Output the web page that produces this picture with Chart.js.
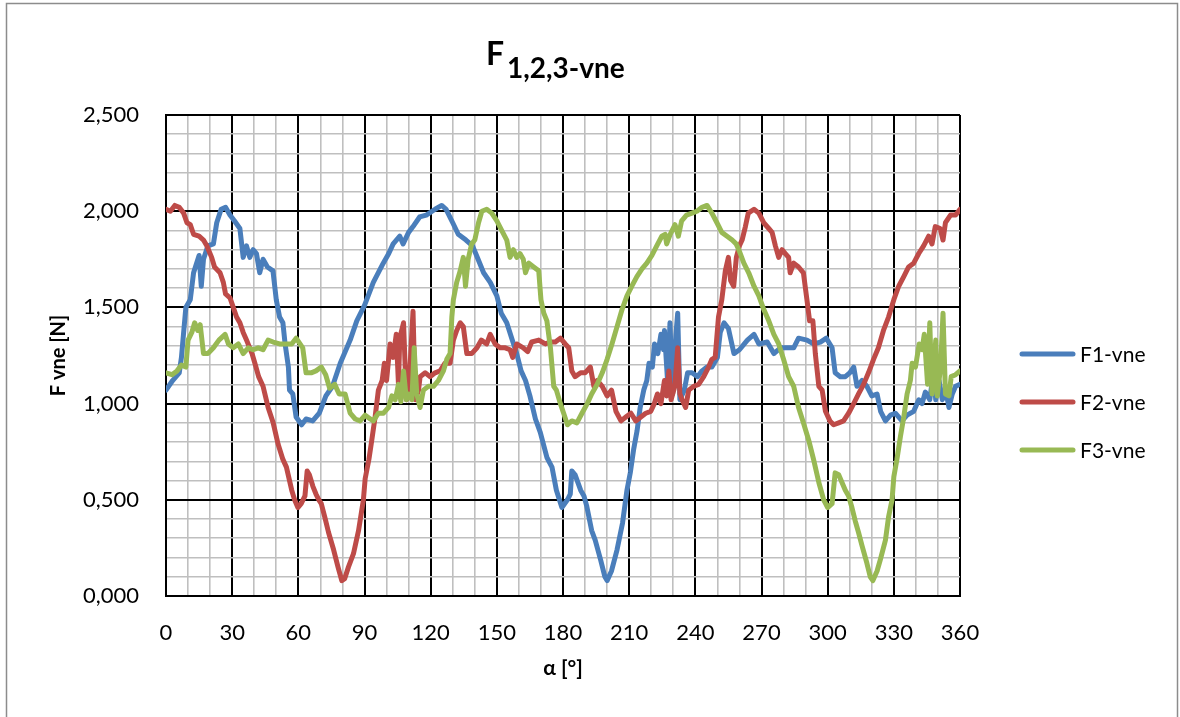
<!DOCTYPE html>
<html>
<head>
<meta charset="utf-8">
<title>F 1,2,3-vne</title>
<script src="https://cdn.jsdelivr.net/npm/chart.js@4.4.1/dist/chart.umd.min.js"></script>
<style>
  html, body { margin: 0; padding: 0; background: #ffffff; }
  #wrap { position: relative; width: 1180px; height: 717px; }
  canvas { display: block; }
</style>
</head>
<body>
<div id="wrap"><canvas id="chart" width="1180" height="717"></canvas></div>
<script>
// Angle α [°] and force F [N] for each wheel
const f1Angles = [0, 3, 6, 7, 9, 11, 12.5, 15, 16, 17, 19, 21.5, 23, 25, 27, 29, 31, 33.5, 35, 36.5, 38, 39.5, 41, 42.5, 44, 46, 48.5, 50, 51.5, 53, 54, 55.5, 56, 57.5, 59, 61.5, 63.5, 66.5, 69.5, 72.5, 75.5, 79, 83.5, 86.5, 90, 94, 98.5, 101, 103, 106, 107.5, 110, 112, 115, 118, 122, 125, 127, 130, 132.5, 136, 139, 141.5, 144, 147, 150, 152, 154.5, 157, 159, 161, 163, 165, 167.5, 169.7, 172.7, 175, 177, 179.5, 182, 183.3, 184, 185.5, 188, 189.5, 190.7, 193, 194.6, 197, 199, 200, 202, 204.5, 207, 209, 210.5, 212, 213.6, 215, 216.6, 218, 219, 220.5, 221.5, 223, 224.4, 225.6, 226, 227.5, 228.5, 229.7, 231.2, 232, 233, 235, 236.5, 238.5, 241, 243, 245.3, 247.5, 250, 251.3, 253, 255, 257.5, 260, 263.6, 266.6, 268.8, 272.6, 275.6, 278.6, 281.6, 284.6, 286.8, 290.6, 293.6, 296.7, 299.4, 302, 303.4, 305.7, 308, 310, 311.8, 313.3, 315.6, 317.8, 320, 322.4, 324, 326.2, 328.5, 330.7, 333.7, 336, 339, 341.3, 342.8, 344.3, 346.3, 348, 349, 350.5, 352, 353.5, 355, 356.5, 358, 360];
const f1Values = [1.07, 1.12, 1.16, 1.24, 1.50, 1.54, 1.68, 1.77, 1.61, 1.75, 1.82, 1.83, 1.94, 2.01, 2.02, 1.98, 1.95, 1.91, 1.76, 1.82, 1.76, 1.80, 1.78, 1.68, 1.75, 1.71, 1.69, 1.54, 1.45, 1.42, 1.31, 1.19, 1.07, 1.05, 0.93, 0.89, 0.92, 0.91, 0.95, 1.04, 1.09, 1.21, 1.33, 1.43, 1.51, 1.63, 1.73, 1.78, 1.83, 1.87, 1.83, 1.89, 1.92, 1.97, 1.98, 2.01, 2.03, 2.01, 1.94, 1.88, 1.85, 1.82, 1.75, 1.68, 1.63, 1.56, 1.47, 1.42, 1.33, 1.26, 1.17, 1.12, 1.04, 0.92, 0.85, 0.72, 0.67, 0.55, 0.46, 0.50, 0.53, 0.65, 0.63, 0.55, 0.52, 0.47, 0.34, 0.29, 0.19, 0.10, 0.08, 0.13, 0.24, 0.38, 0.55, 0.64, 0.76, 0.86, 0.98, 1.07, 1.12, 1.21, 1.19, 1.31, 1.26, 1.36, 1.28, 1.38, 1.10, 1.42, 1.05, 1.36, 1.47, 1.02, 1.07, 1.16, 1.16, 1.14, 1.17, 1.19, 1.19, 1.24, 1.37, 1.42, 1.39, 1.26, 1.28, 1.33, 1.36, 1.31, 1.32, 1.26, 1.29, 1.29, 1.29, 1.34, 1.33, 1.31, 1.32, 1.34, 1.29, 1.16, 1.14, 1.14, 1.16, 1.19, 1.09, 1.12, 1.09, 1.04, 1.05, 0.96, 0.91, 0.94, 0.95, 0.91, 0.94, 0.96, 1.02, 1.00, 1.06, 1.02, 1.17, 1.02, 1.12, 1.02, 1.07, 0.98, 1.05, 1.09, 1.10];

const f2Angles = [0, 2, 4, 6, 8, 9.5, 11, 12.5, 15, 17, 18.5, 20.7, 22, 24.5, 26, 27, 29, 30.5, 32, 33.5, 35, 36.5, 39, 40.3, 42, 44, 46.3, 48.6, 50.8, 53, 54.6, 57, 58.3, 59.8, 61.3, 63, 64, 65, 66.6, 68, 69.3, 70.4, 72, 73.7, 76, 78, 79.7, 81, 82.7, 85, 87.3, 89.5, 90.3, 92, 93.3, 94.8, 96.3, 98, 99, 100, 101.6, 103, 104.4, 105.4, 106, 107.7, 109, 110, 112, 113, 114.5, 115.2, 117.5, 119.8, 122, 124.3, 126.5, 128.8, 130.3, 131.8, 133.4, 134.8, 136.4, 138.6, 141, 143, 145.4, 147, 149.2, 151.5, 153.8, 156, 157.2, 159, 162, 164, 165.8, 169, 172, 174.3, 176.5, 178.8, 181, 182.6, 184, 185.5, 188, 190, 192.4, 194, 195.5, 197.8, 200, 202, 204, 206.3, 208.5, 210.8, 213, 215.3, 217.5, 219.8, 221.4, 222.8, 224.4, 226, 227, 228, 229, 230.7, 232, 233, 234, 235.6, 237, 239.3, 241.5, 243.8, 246, 247.5, 249, 250.5, 252, 253.6, 255, 256, 257.4, 258.6, 260, 261.2, 262.7, 264, 266.6, 268.8, 271, 273.3, 274.8, 276.3, 277.8, 279.3, 280.8, 282.3, 283, 284.6, 286.8, 289, 290.6, 291.8, 293.3, 294.4, 296, 297.5, 299, 301, 302.7, 305, 307.2, 309.5, 311.8, 314, 316.3, 318.5, 320.8, 323, 325.3, 327.6, 330, 332.2, 334.5, 336.7, 339, 341.3, 343.5, 345.8, 347.3, 348.8, 351, 352.3, 353.4, 355.7, 358, 360];
const f2Values = [2.01, 2.00, 2.03, 2.02, 1.99, 1.94, 1.93, 1.88, 1.87, 1.85, 1.82, 1.76, 1.71, 1.68, 1.63, 1.57, 1.55, 1.50, 1.45, 1.42, 1.37, 1.33, 1.26, 1.21, 1.14, 1.09, 0.98, 0.90, 0.79, 0.71, 0.67, 0.55, 0.50, 0.46, 0.48, 0.52, 0.65, 0.63, 0.57, 0.53, 0.50, 0.48, 0.41, 0.33, 0.24, 0.15, 0.08, 0.09, 0.15, 0.22, 0.34, 0.50, 0.61, 0.71, 0.81, 0.93, 1.07, 1.12, 1.21, 1.12, 1.31, 1.24, 1.36, 1.10, 1.34, 1.42, 1.02, 1.05, 1.48, 1.02, 1.07, 1.14, 1.16, 1.14, 1.16, 1.17, 1.21, 1.21, 1.33, 1.38, 1.42, 1.40, 1.26, 1.26, 1.29, 1.33, 1.31, 1.36, 1.31, 1.29, 1.29, 1.28, 1.24, 1.31, 1.29, 1.27, 1.32, 1.33, 1.31, 1.32, 1.32, 1.34, 1.31, 1.29, 1.17, 1.14, 1.16, 1.16, 1.19, 1.09, 1.12, 1.09, 1.04, 1.07, 0.96, 0.91, 0.93, 0.95, 0.91, 0.93, 0.95, 0.96, 1.00, 1.05, 1.00, 1.12, 1.04, 1.17, 1.02, 1.09, 1.29, 1.05, 1.02, 0.98, 1.07, 1.09, 1.10, 1.14, 1.19, 1.23, 1.24, 1.45, 1.54, 1.69, 1.76, 1.64, 1.61, 1.76, 1.82, 1.85, 1.92, 1.99, 2.01, 1.99, 1.94, 1.91, 1.89, 1.82, 1.76, 1.80, 1.78, 1.76, 1.68, 1.73, 1.71, 1.68, 1.54, 1.43, 1.43, 1.26, 1.09, 1.07, 0.96, 0.91, 0.89, 0.90, 0.91, 0.95, 1.00, 1.05, 1.10, 1.16, 1.23, 1.29, 1.38, 1.45, 1.54, 1.61, 1.66, 1.71, 1.73, 1.78, 1.82, 1.87, 1.83, 1.92, 1.91, 1.85, 1.94, 1.98, 1.98, 2.01];

const f3Angles = [0, 2.7, 5, 7, 9, 10, 11.7, 13, 14.4, 15.5, 17, 19, 21.5, 24, 26.8, 28.3, 30.5, 32.8, 35, 37.3, 39.5, 41.8, 44, 46.3, 48.6, 51.5, 54.6, 57, 59, 62, 63.5, 65.8, 68, 70.4, 72.4, 74.2, 76.5, 78.5, 81.2, 83.5, 85.8, 88, 90.3, 92.6, 94, 96.3, 98.6, 100.9, 102.4, 103.9, 105.4, 106.5, 107.7, 109, 110, 111.5, 112.5, 113.7, 115.2, 116.7, 119, 121.3, 123.5, 125.8, 127.3, 128.8, 129.6, 130.3, 131.8, 133.4, 134.8, 135.8, 137, 138.6, 140, 141.7, 143.2, 145.4, 147.7, 150, 152.2, 154.5, 156, 157.5, 159, 160.5, 162, 163, 164.5, 166.7, 169, 170, 171.3, 172.7, 174.3, 175.8, 177, 178.8, 180.3, 182, 184, 186.3, 188.6, 191, 193, 195.5, 197.8, 200, 202.2, 204.5, 206.8, 209, 211.2, 213.5, 215.8, 218, 220.3, 222.5, 224.8, 226.3, 227, 228.6, 230.8, 232.3, 233.8, 236, 238.5, 240.7, 243, 245.3, 247.5, 249.8, 252, 254.4, 256.7, 258.5, 259.7, 262, 264.2, 266.6, 268.8, 271, 273.3, 275.6, 277.8, 280, 282.3, 284.6, 286.8, 289, 291.4, 293.6, 296, 298.2, 300, 302, 303.4, 305, 306.5, 308, 309.5, 311, 312.5, 314, 315.6, 317.8, 319.3, 320.5, 322.4, 323.9, 326.2, 327.6, 329.2, 330, 331.4, 333, 334.5, 336, 337.5, 338.3, 339.8, 341.5, 342.8, 343.8, 345.3, 346.3, 347.3, 349, 349.7, 351.2, 352.3, 353.4, 355, 356, 358, 360];
const f3Values = [1.16, 1.15, 1.17, 1.20, 1.19, 1.33, 1.37, 1.42, 1.38, 1.41, 1.26, 1.26, 1.29, 1.33, 1.36, 1.31, 1.29, 1.31, 1.26, 1.29, 1.28, 1.29, 1.28, 1.33, 1.32, 1.31, 1.31, 1.31, 1.34, 1.29, 1.16, 1.16, 1.17, 1.19, 1.15, 1.08, 1.10, 1.05, 1.05, 0.95, 0.92, 0.91, 0.94, 0.92, 0.91, 0.95, 0.95, 0.98, 1.04, 1.02, 1.10, 1.01, 1.17, 1.02, 1.05, 1.02, 1.29, 1.05, 0.98, 1.07, 1.09, 1.09, 1.12, 1.17, 1.23, 1.26, 1.45, 1.54, 1.63, 1.69, 1.76, 1.61, 1.75, 1.83, 1.85, 1.94, 2.00, 2.01, 1.99, 1.95, 1.90, 1.85, 1.76, 1.80, 1.76, 1.78, 1.75, 1.68, 1.73, 1.71, 1.69, 1.54, 1.47, 1.43, 1.29, 1.09, 1.07, 1.00, 0.95, 0.89, 0.91, 0.90, 0.95, 1.00, 1.05, 1.10, 1.16, 1.23, 1.31, 1.40, 1.49, 1.56, 1.61, 1.66, 1.70, 1.73, 1.77, 1.82, 1.87, 1.88, 1.83, 1.88, 1.93, 1.87, 1.95, 1.98, 1.99, 2.00, 2.02, 2.03, 1.99, 1.94, 1.89, 1.87, 1.85, 1.83, 1.80, 1.73, 1.68, 1.61, 1.56, 1.49, 1.43, 1.36, 1.31, 1.23, 1.14, 1.09, 0.98, 0.90, 0.81, 0.71, 0.59, 0.50, 0.46, 0.48, 0.64, 0.63, 0.59, 0.55, 0.52, 0.46, 0.39, 0.33, 0.26, 0.17, 0.10, 0.08, 0.13, 0.19, 0.29, 0.41, 0.50, 0.62, 0.71, 0.83, 0.93, 1.05, 1.12, 1.21, 1.19, 1.31, 1.28, 1.36, 1.10, 1.42, 1.05, 1.33, 1.04, 1.19, 1.47, 1.05, 1.04, 1.14, 1.15, 1.17];

const seriesNames = ['F1-vne', 'F2-vne', 'F3-vne'];
const seriesColors = ['#4A7EBB', '#BE4B48', '#98B954'];

const FONT = 'Lato, "Open Sans", sans-serif';

function points(angles, values) {
  return angles.map((a, i) => ({ x: a, y: values[i] }));
}

function lineDataset(i, angles, values) {
  return {
    label: seriesNames[i],
    data: points(angles, values),
    borderColor: seriesColors[i],
    backgroundColor: seriesColors[i],
    borderWidth: 5,
    tension: 0,
    borderJoinStyle: 'round',
    borderCapStyle: 'round',
    pointRadius: 0,
    pointHoverRadius: 0,
    fill: false,
    order: 3 - i
  };
}

const isMultiple = (v, step) => Math.abs(v / step - Math.round(v / step)) < 1e-6;

// Outer frame and the title with its subscript
const framePlugin = {
  id: 'frame',
  beforeDraw(chart) {
    const ctx = chart.ctx;
    ctx.save();
    ctx.fillStyle = '#ffffff';
    ctx.fillRect(0, 0, chart.width, chart.height);
    ctx.strokeStyle = '#8c8c8c';
    ctx.lineWidth = 1.5;
    ctx.strokeRect(6.5, 3.5, 1171, 720);
    ctx.restore();
  },
  afterDraw(chart) {
    const ctx = chart.ctx;
    ctx.save();
    ctx.fillStyle = '#000000';
    ctx.textBaseline = 'alphabetic';
    ctx.textAlign = 'left';
    ctx.font = 'bold 32px ' + FONT;
    ctx.fillText('F', 486, 65);
    ctx.font = 'bold 28px ' + FONT;
    ctx.fillText('1,2,3-vne', 507, 78);
    ctx.restore();
  }
};

// Legend on the right: a short thick line followed by the series name
const legendPlugin = {
  id: 'sideLegend',
  afterDraw(chart) {
    const ctx = chart.ctx;
    ctx.save();
    chart.data.datasets.forEach((ds, i) => {
      const y = 354 + i * 48;
      ctx.strokeStyle = ds.borderColor;
      ctx.lineWidth = 5;
      ctx.lineCap = 'round';
      ctx.beginPath();
      ctx.moveTo(1022, y);
      ctx.lineTo(1073, y);
      ctx.stroke();
      ctx.fillStyle = '#000000';
      ctx.font = '21px ' + FONT;
      ctx.textBaseline = 'middle';
      ctx.fillText(ds.label, 1080, y + 1);
    });
    ctx.restore();
  }
};

const ctx = document.getElementById('chart').getContext('2d');
new Chart(ctx, {
  type: 'line',
  data: {
    datasets: [
      lineDataset(0, f1Angles, f1Values),
      lineDataset(1, f2Angles, f2Values),
      lineDataset(2, f3Angles, f3Values)
    ]
  },
  options: {
    responsive: false,
    animation: false,
    layout: { padding: { left: 0, top: 115, right: 220, bottom: 0 } },
    plugins: {
      legend: { display: false },
      title: { display: false },
      tooltip: { enabled: false }
    },
    scales: {
      x: {
        type: 'linear',
        min: 0,
        max: 360,
        afterFit(scale) { scale.height = 121; },
        ticks: {
          stepSize: 10,
          autoSkip: false,
          maxRotation: 0,
          padding: 24,
          color: '#000000',
          font: { family: FONT, size: 22 },
          callback: (v) => (isMultiple(v, 30) ? String(v) : '')
        },
        grid: {
          drawTicks: false,
          color: (c) => (isMultiple(c.tick.value, 30) ? '#000000' : '#BFBFBF'),
          lineWidth: (c) => (isMultiple(c.tick.value, 30) ? 2 : 1.6)
        },
        border: { display: true, color: '#000000', width: 2 },
        title: {
          display: true,
          text: 'α [°]',
          color: '#000000',
          font: { family: FONT, size: 21, weight: 'bold' },
          padding: { top: 0, bottom: 36 }
        }
      },
      y: {
        type: 'linear',
        min: 0,
        max: 2.5,
        afterFit(scale) { scale.width = 166; },
        ticks: {
          stepSize: 0.1,
          autoSkip: false,
          padding: 27,
          color: '#000000',
          font: { family: FONT, size: 22 },
          callback: (v) => (isMultiple(v, 0.5) ? v.toFixed(3).replace('.', ',') : '')
        },
        grid: {
          drawTicks: false,
          color: (c) => (isMultiple(c.tick.value, 0.5) ? '#000000' : '#BFBFBF'),
          lineWidth: (c) => (isMultiple(c.tick.value, 0.5) ? 2 : 1.6)
        },
        border: { display: true, color: '#000000', width: 2 },
        title: {
          display: true,
          text: 'F vne [N]',
          color: '#000000',
          font: { family: FONT, size: 20, weight: 'bold' },
          padding: { top: 47, bottom: 0 }
        }
      }
    }
  },
  plugins: [framePlugin, legendPlugin]
});
</script>
</body>
</html>
